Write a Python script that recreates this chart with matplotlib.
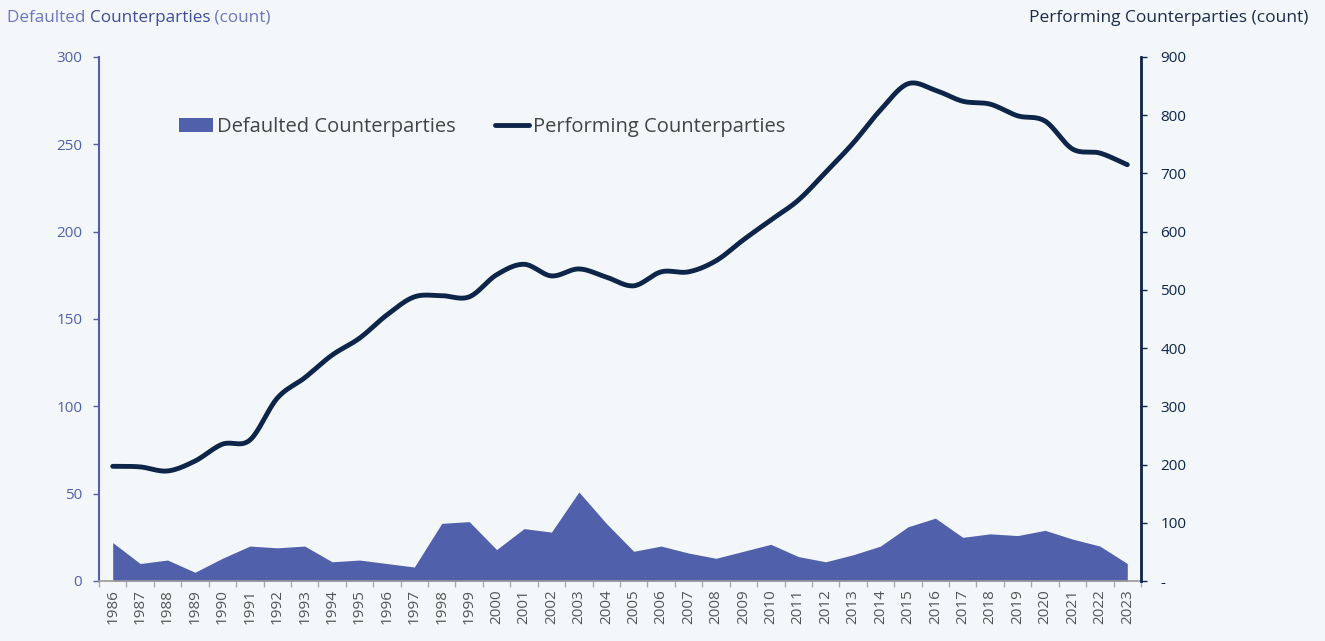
import numpy as np
import matplotlib
matplotlib.use("Agg")
import matplotlib.pyplot as plt
from matplotlib.patches import Patch
from matplotlib.lines import Line2D

years = [str(y) for y in range(1986, 2024)]
defaulted = [22, 10, 12, 5, 13, 20, 19, 20, 11, 12, 10, 8, 33, 34, 18, 30, 28, 51, 33,
             17, 20, 16, 13, 17, 21, 14, 11, 15, 20, 31, 36, 25, 27, 26, 29, 24, 20, 10]
performing = [197, 196, 189, 206, 235, 242, 314, 349, 388, 417, 457, 488, 490, 488, 526,
              544, 524, 536, 522, 507, 531, 531, 550, 586, 620, 654, 702, 752, 809, 854,
              843, 824, 819, 799, 790, 742, 735, 715]
left_ticks = [0, 50, 100, 150, 200, 250, 300]
right_ticks = [0, 100, 200, 300, 400, 500, 600, 700, 800, 900]
right_labels = ["-", "100", "200", "300", "400", "500", "600", "700", "800", "900"]

BG = "#F3F7F9"
AREA = "#5160AB"
LINE = "#0D2549"
FONT = "Open Sans"
plt.rcParams['font.family'] = [FONT, 'DejaVu Sans']

def catmull_rom(xs, ys, n=20):
    xs = np.asarray(xs, float); ys = np.asarray(ys, float)
    px = np.concatenate([[2*xs[0]-xs[1]], xs, [2*xs[-1]-xs[-2]]])
    py = np.concatenate([[2*ys[0]-ys[1]], ys, [2*ys[-1]-ys[-2]]])
    ox, oy = [], []
    t = np.linspace(0, 1, n, endpoint=False)
    for i in range(1, len(px)-2):
        for arr, out in ((px, ox), (py, oy)):
            p0, p1, p2, p3 = arr[i-1], arr[i], arr[i+1], arr[i+2]
            out.extend(0.5*((2*p1) + (-p0+p2)*t + (2*p0-5*p1+4*p2-p3)*t**2 + (-p0+3*p1-3*p2+p3)*t**3))
    ox.append(xs[-1]); oy.append(ys[-1])
    return np.array(ox), np.array(oy)

fig = plt.figure(figsize=(13.25, 6.41), dpi=100, facecolor=BG)
ax = fig.add_axes([99/1325, 60/641, (1141-99)/1325, (581-57)/641])
ax.set_facecolor(BG)
x = np.arange(len(years))
ax.fill_between(x, defaulted, 0, color=AREA, linewidth=0, zorder=2)
ax.set_xlim(-0.5, len(years)-0.5)
ax.set_ylim(0, 300)
ax.set_yticks(left_ticks)
ax.set_yticklabels([str(v) for v in left_ticks])
ax.tick_params(axis='y', colors=AREA, labelsize=11, length=4, width=1, pad=8)
for lab in ax.get_yticklabels():
    lab.set_color(AREA)
ax.set_xticks(x)
ax.set_xticklabels(years, rotation=90, fontsize=11, color="#555555")
ax.set_xticks(np.arange(-0.5, len(years)), minor=True)
ax.tick_params(axis='x', which='major', length=0, pad=6)
ax.tick_params(axis='x', which='minor', length=4, color="#AAAAAA", width=1)
for s in ['top', 'right']:
    ax.spines[s].set_visible(False)
ax.spines['left'].set_color(AREA)
ax.spines['left'].set_linewidth(1.5)
ax.spines['bottom'].set_color("#999999")
ax.spines['bottom'].set_linewidth(1.2)

ax2 = ax.twinx()
sx, sy = catmull_rom(x, performing)
ax2.plot(sx, sy, color=LINE, linewidth=3.5, solid_capstyle='round', zorder=3)
ax2.set_ylim(0, 900)
ax2.set_yticks(right_ticks)
ax2.set_yticklabels(right_labels)
ax2.tick_params(axis='y', colors=LINE, labelsize=11, length=4, width=1, pad=10)
for s in ['top', 'left', 'bottom']:
    ax2.spines[s].set_visible(False)
ax2.spines['right'].set_color(LINE)
ax2.spines['right'].set_linewidth(2)

handles = [Patch(facecolor=AREA, edgecolor='none'),
           Line2D([0], [0], color=LINE, linewidth=3.5, solid_capstyle='round')]
leg = ax2.legend(handles, ["Defaulted Counterparties", "Performing Counterparties"],
                 loc='center left', bbox_to_anchor=(0.059, 0.866), ncol=2, frameon=False,
                 fontsize=14.5, handlelength=1.7, handletextpad=0.2, columnspacing=1.95)
for t in leg.get_texts():
    t.set_color("#444444")

# Titles
fig.canvas.draw()
r = fig.canvas.get_renderer()
parts = [("Defaulted ", "#6A76BE"), ("Counterparties", "#3E4C9C"), (" (count)", "#6A76BE")]
xpos = 7/1325
for txt, col in parts:
    t = fig.text(xpos, 1-18/641, txt, color=col, fontsize=12.3, va='center', ha='left')
    bb = t.get_window_extent(r)
    xpos += bb.width/1325
fig.text(1308/1325, 1-18/641, "Performing Counterparties (count)", color="#1B2B4B",
         fontsize=12.5, va='center', ha='right')

fig.savefig("out.png", dpi=100, facecolor=BG)
